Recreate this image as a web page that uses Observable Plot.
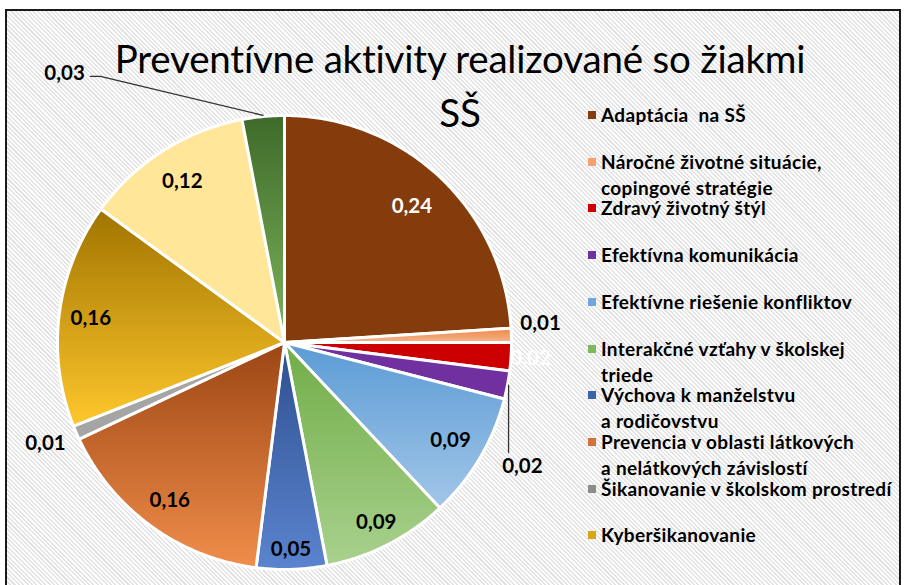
<!DOCTYPE html>
<html>
<head>
<meta charset="utf-8">
<script src="https://cdn.jsdelivr.net/npm/d3@7"></script>
<script src="https://cdn.jsdelivr.net/npm/@observablehq/plot@0.6"></script>
<style>
  html, body { margin: 0; padding: 0; background: #fff; }
  body { width: 904px; height: 585px; position: relative; overflow: hidden; font-family: Lato, "Open Sans", sans-serif; }
  #frame { position: absolute; left: 5px; top: 9px; width: 892px; height: 600px; border: 2px solid #1a1a1a;
    background: repeating-linear-gradient(45deg, #ffffff 0px, #ffffff 1.6px, #e3e3e3 1.6px, #e3e3e3 3.1px); }
  #pie { position: absolute; left: 0; top: 0; }
  .title { position: absolute; left: 60px; width: 800px; text-align: center; font-family: Lato, sans-serif; font-weight: 400; font-size: 38.5px; color: #000; line-height: 42px; letter-spacing: -0.2px; }
  #legend { position: absolute; left: 588px; top: 0; }
  .item { position: absolute; left: 0; white-space: pre; font-weight: bold; font-size: 19px; letter-spacing: 0.35px; line-height: 26px; color: #000; }
  .sw { position: absolute; left: 0; top: 9px; width: 8px; height: 8px; }
  .lt { position: absolute; left: 13px; top: 0; }
</style>
</head>
<body>
<div id="frame"></div>
<div id="chart"></div>
<script>
// ---- data ----
const categories = [
  "Adaptácia  na SŠ",
  "Náročné životné situácie, copingové stratégie",
  "Zdravý životný štýl",
  "Efektívna komunikácia",
  "Efektívne riešenie konfliktov",
  "Interakčné vzťahy v školskej triede",
  "Výchova k manželstvu a rodičovstvu",
  "Prevencia v oblasti látkových a nelátkových závislostí",
  "Šikanovanie v školskom prostredí",
  "Kyberšikanovanie",
  "Kategória 11",
  "Kategória 12"
];
const values = [0.24, 0.01, 0.02, 0.02, 0.09, 0.09, 0.05, 0.16, 0.01, 0.16, 0.12, 0.03];
const legendLabels = [
  "Adaptácia  na SŠ",
  "Náročné životné situácie,\ncopingové stratégie",
  "Zdravý životný štýl",
  "Efektívna komunikácia",
  "Efektívne riešenie konfliktov",
  "Interakčné vzťahy v školskej\ntriede",
  "Výchova k manželstvu\na rodičovstvu",
  "Prevencia v oblasti látkových\na nelátkových závislostí",
  "Šikanovanie v školskom prostredí",
  "Kyberšikanovanie"
];
const titleLines = ["Preventívne aktivity realizované so žiakmi", "SŠ"];

// ---- styles ----
const topC = ["#843c0c","#ef8745","#cc0000","#7030a0","#5b9bd5","#70ad47","#2e4f8e","#9c4614","#a5a5a5","#a07400","#ffe699","#3f6a2a"];
const botC = ["#843c0c","#f6b48c","#cc0000","#7030a0","#a2c6e8","#a9d18e","#5b84cf","#f08d4a","#a5a5a5","#ffc72c","#ffe699","#7db55b"];
const swatch = ["#843c0c","#f4a070","#cc0000","#7030a0","#6fa6dc","#80b85a","#3b62ad","#d5703a","#8c8c8c","#d8a616"];

// ---- layout ----
const W = 580, H = 585, CX = 284, CY = 342, R = 227;
const labelColor = ["#fff","#000","#fff","#000","#000","#000","#000","#000","#000","#000","#000","#000"];
const insideRadius = {0: 0.82, 4: 0.85, 5: 0.89, 6: 0.91, 7: 0.86, 9: 0.86, 10: 0.84};
const outsideLabel = {1: [1.128, -0.084], 2: [1.084, 0.070], 3: [1.048, 0.546], 8: [-1.053, 0.445], 11: [-0.969, -1.185]};
const leaderEnds = {3: [[0.987, 0.485]], 11: [[-0.811, -1.172], [-0.855, -1.172]]};

// ---- compute slices ----
const total = d3.sum(values);
let acc = 0;
const slices = values.map((v, i) => {
  const a0 = acc / total * 2 * Math.PI; acc += v;
  const a1 = acc / total * 2 * Math.PI;
  return {i, v, a0, a1, mid: (a0 + a1) / 2};
});
const pts = [];
for (const s of slices) {
  const fill = `url(#g${s.i})`;
  pts.push({slice: s.i, x: 0, y: 0, fill});
  const n = Math.max(2, Math.ceil((s.a1 - s.a0) / (Math.PI / 360)));
  for (let k = 0; k <= n; k++) {
    const a = s.a0 + (s.a1 - s.a0) * k / n;
    pts.push({slice: s.i, x: Math.sin(a), y: -Math.cos(a), fill});
  }
  pts.push({slice: s.i, x: 0, y: 0, fill});
}
const fmt = v => d3.format(".2f")(v).replace(".", ",");
const labels = slices.map(s => {
  let x, y;
  if (outsideLabel[s.i]) [x, y] = outsideLabel[s.i];
  else { const r = insideRadius[s.i] ?? 0.86; x = r * Math.sin(s.mid); y = -r * Math.cos(s.mid); }
  return {x, y, text: fmt(s.v), color: labelColor[s.i]};
});
const leaders = [];
for (const k of Object.keys(leaderEnds)) {
  const s = slices[+k];
  leaders.push({id: k, x: 1.005 * Math.sin(s.mid), y: -1.005 * Math.cos(s.mid)});
  for (const [x, y] of leaderEnds[k]) leaders.push({id: k, x, y});
}

const svg = Plot.plot({
  width: W, height: H, margin: 0,
  x: {domain: [-CX / R, (W - CX) / R], range: [0, W], axis: null},
  y: {domain: [-CY / R, (H - CY) / R], range: [0, H], axis: null},
  color: {type: "identity"},
  style: {background: "transparent", overflow: "visible"},
  marks: [
    Plot.line(pts, {x: "x", y: "y", z: "slice", fill: "fill", stroke: "#fff", strokeWidth: 3, strokeLinejoin: "round", curve: "linear"}),
    Plot.line(leaders, {x: "x", y: "y", z: "id", stroke: "#333", strokeWidth: 1.3}),
    Plot.text(labels, {x: "x", y: "y", text: "text", fill: "color", fontSize: 20.5, fontWeight: "bold", fontFamily: "Lato, sans-serif"})
  ]
});
const defs = d3.select(svg).insert("defs", ":first-child");
slices.forEach(s => {
  const g = defs.append("linearGradient").attr("id", `g${s.i}`).attr("x1", 0).attr("y1", 0).attr("x2", 0).attr("y2", 1);
  g.append("stop").attr("offset", "0%").attr("stop-color", topC[s.i]);
  g.append("stop").attr("offset", "100%").attr("stop-color", botC[s.i]);
});
svg.id = "pie";
document.getElementById("chart").appendChild(svg);

// title
titleLines.forEach((t, k) => {
  const d = document.createElement("div");
  d.className = "title"; d.textContent = t;
  d.style.top = (37 + k * 54) + "px";
  document.body.appendChild(d);
});

// legend
const legend = document.createElement("div");
legend.id = "legend";
document.body.appendChild(legend);
legendLabels.forEach((t, i) => {
  const it = document.createElement("div");
  it.className = "item";
  it.style.top = (115 - 13 + i * 46.7) + "px";
  const sw = document.createElement("div"); sw.className = "sw"; sw.style.background = swatch[i];
  const lt = document.createElement("div"); lt.className = "lt"; lt.textContent = t;
  it.appendChild(sw); it.appendChild(lt);
  legend.appendChild(it);
});
</script>
</body>
</html>
